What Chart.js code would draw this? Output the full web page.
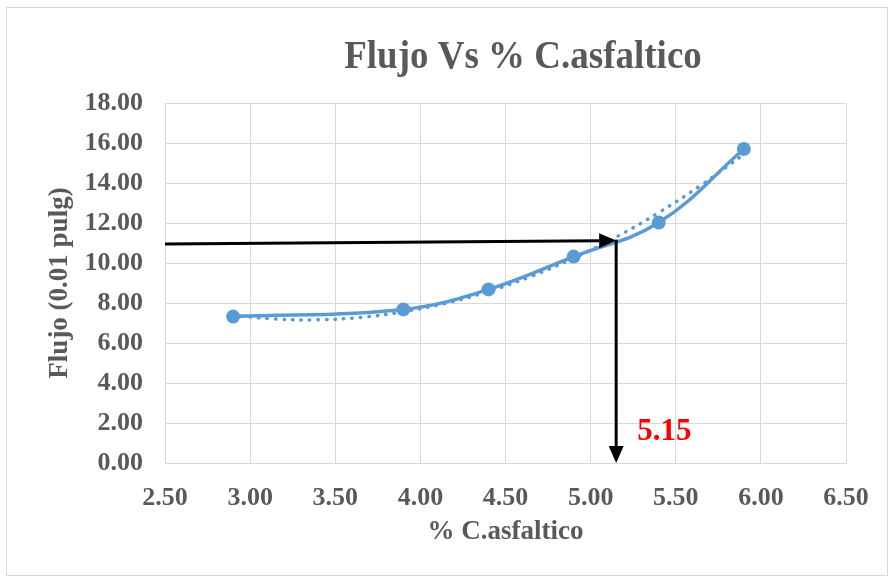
<!DOCTYPE html>
<html>
<head>
<meta charset="utf-8">
<script src="https://cdn.jsdelivr.net/npm/chart.js@4/dist/chart.umd.min.js"></script>
<style>
  html, body { margin: 0; padding: 0; background: #fff; }
  #wrap { position: relative; width: 889px; height: 577px; }
</style>
</head>
<body>
<div id="wrap"><canvas id="c" width="889" height="577"></canvas></div>
<script>
// Asphalt content (%) and measured flow (0.01 in)
const asphaltContent = [2.9, 3.9, 4.4, 4.9, 5.4, 5.9];
const flowValues = [7.32, 7.68, 8.68, 10.32, 12.02, 15.70];

// Dotted trend curve
const trendX = [2.9, 3.15, 3.4, 3.65, 3.9, 4.15, 4.4, 4.65, 4.9, 5.15, 5.4, 5.65, 5.9];
const trendY = [7.39, 7.20, 7.16, 7.28, 7.56, 7.99, 8.58, 9.33, 10.24, 11.30, 12.52, 13.90, 15.43];

// Axis ticks
const xTickValues = [2.5, 3.0, 3.5, 4.0, 4.5, 5.0, 5.5, 6.0, 6.5];
const yTickValues = [0, 2, 4, 6, 8, 10, 12, 14, 16, 18];

// Reading of the optimum content: horizontal guide to the curve, then down to the axis
const optimumContent = 5.15;
const guideStart = [2.5, 10.95];
const guideEnd = [5.15, 11.12];
const dropEnd = [5.15, 0];

const FONT = "'Liberation Serif', 'Times New Roman', serif";
const GREY = '#595959';
const BLUE = '#5B9BD5';

const toPoints = (xs, ys) => xs.map((x, i) => ({ x, y: ys[i] }));

function drawArrow(ctx, x0, y0, x1, y1) {
  const ang = Math.atan2(y1 - y0, x1 - x0);
  const head = 17, half = 7.5;
  const bx = x1 - head * Math.cos(ang), by = y1 - head * Math.sin(ang);
  ctx.beginPath();
  ctx.moveTo(x0, y0);
  ctx.lineTo(bx, by);
  ctx.stroke();
  ctx.beginPath();
  ctx.moveTo(x1, y1);
  ctx.lineTo(bx + half * Math.sin(ang), by - half * Math.cos(ang));
  ctx.lineTo(bx - half * Math.sin(ang), by + half * Math.cos(ang));
  ctx.closePath();
  ctx.fill();
}

const framePlugin = {
  id: 'frame',
  beforeDraw(chart) {
    const ctx = chart.ctx;
    ctx.save();
    ctx.fillStyle = '#fff';
    ctx.fillRect(0, 0, chart.width, chart.height);
    ctx.strokeStyle = '#d9d9d9';
    ctx.lineWidth = 1;
    ctx.strokeRect(6.5, 7.5, 881, 568);
    ctx.restore();
  },
  afterDraw(chart) {
    const ctx = chart.ctx;
    ctx.save();
    ctx.fillStyle = GREY;
    ctx.font = 'bold 37px ' + FONT;
    ctx.textAlign = 'center';
    ctx.textBaseline = 'alphabetic';
    ctx.translate(523, 68);
    ctx.scale(1, 1.1);
    ctx.fillText('Flujo Vs % C.asfaltico', 0, 0);
    ctx.restore();
  }
};

const guidePlugin = {
  id: 'guides',
  afterDatasetsDraw(chart) {
    const { ctx, scales: { x, y } } = chart;
    ctx.save();
    ctx.strokeStyle = '#000';
    ctx.fillStyle = '#000';
    ctx.lineWidth = 3;
    drawArrow(ctx,
      x.getPixelForValue(guideStart[0]), y.getPixelForValue(guideStart[1]),
      x.getPixelForValue(guideEnd[0]), y.getPixelForValue(guideEnd[1]));
    const px = x.getPixelForValue(optimumContent);
    drawArrow(ctx,
      px, y.getPixelForValue(guideEnd[1]) - 1,
      px, y.getPixelForValue(dropEnd[1]));
    ctx.fillStyle = '#FF0000';
    ctx.font = 'bold 31px ' + FONT;
    ctx.textAlign = 'left';
    ctx.textBaseline = 'middle';
    ctx.fillText(optimumContent.toFixed(2), px + 21, y.getPixelForValue(1.55));
    ctx.restore();
  }
};

new Chart(document.getElementById('c'), {
  type: 'line',
  data: {
    datasets: [
      {
        label: 'Flujo',
        data: toPoints(asphaltContent, flowValues),
        borderColor: BLUE,
        backgroundColor: BLUE,
        borderWidth: 3.5,
        pointRadius: 7,
        pointHoverRadius: 7,
        pointBorderWidth: 0,
        tension: 0.4,
        fill: false
      },
      {
        label: 'Tendencia',
        data: toPoints(trendX, trendY),
        borderColor: BLUE,
        borderWidth: 3.5,
        borderDash: [0.5, 8],
        borderCapStyle: 'round',
        pointRadius: 0,
        tension: 0.4,
        fill: false
      }
    ]
  },
  options: {
    responsive: false,
    animation: false,
    devicePixelRatio: 1,
    layout: { padding: { top: 103, right: 43, bottom: 0, left: 0 } },
    plugins: {
      legend: { display: false },
      title: { display: false },
      tooltip: { enabled: false }
    },
    scales: {
      x: {
        type: 'linear',
        min: 2.5,
        max: 6.5,
        afterBuildTicks(scale) { scale.ticks = xTickValues.map(v => ({ value: v })); },
        afterFit(scale) { scale.height = 114; },
        grid: { color: '#d9d9d9', lineWidth: 1, drawTicks: false },
        border: { color: '#d9d9d9', width: 1 },
        ticks: {
          color: GREY,
          font: { family: FONT, size: 26, weight: 'bold' },
          padding: 20,
          maxRotation: 0,
          callback: v => Number(v).toFixed(2)
        },
        title: {
          display: true,
          text: '% C.asfaltico',
          color: GREY,
          font: { family: FONT, size: 27, weight: 'bold' },
          padding: { top: 0, bottom: 29 }
        }
      },
      y: {
        min: 0,
        max: 18,
        afterBuildTicks(scale) { scale.ticks = yTickValues.map(v => ({ value: v })); },
        afterFit(scale) { scale.width = 165; },
        grid: { color: '#d9d9d9', lineWidth: 1, drawTicks: false },
        border: { color: '#d9d9d9', width: 1 },
        ticks: {
          color: GREY,
          font: { family: FONT, size: 26, weight: 'bold' },
          padding: 22,
          callback: v => Number(v).toFixed(2)
        },
        title: {
          display: true,
          text: 'Flujo (0.01 pulg)',
          color: GREY,
          font: { family: FONT, size: 27, weight: 'bold' },
          padding: { top: 44, bottom: 0 }
        }
      }
    }
  },
  plugins: [framePlugin, guidePlugin]
});
</script>
</body>
</html>
